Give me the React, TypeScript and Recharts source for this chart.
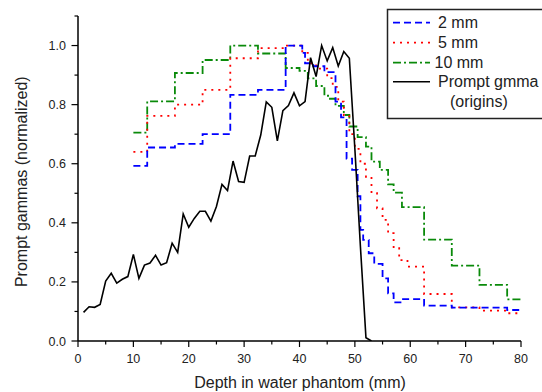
import React from 'react';
import { LineChart, Line, XAxis, YAxis } from 'recharts';

// Prompt gamma origins (black solid)
const originDepth = [1,2,3,4,5,6,7,8,9,10,11,12,13,14,15,16,17,18,19,20,21,22,23,24,25,26,27,28,29,30,31,32,33,34,35,36,37,38,39,40,41,42,43,44,45,46,47,48,49,50,51,52,53];
const originValue = [0.097,0.116,0.114,0.124,0.203,0.229,0.196,0.209,0.218,0.293,0.212,0.257,0.264,0.29,0.257,0.265,0.331,0.30,0.43,0.385,0.415,0.439,0.439,0.406,0.455,0.53,0.509,0.609,0.54,0.537,0.626,0.626,0.697,0.809,0.791,0.677,0.78,0.797,0.84,0.796,0.81,0.959,0.895,1.0,0.948,0.993,0.931,0.98,0.957,0.65,0.32,0.011,0.0];

// 2 mm (blue dashed, step)
const blueEdges = [10,12.5,17.5,22.5,27.5,32.5,37.5,40.5,41,42.5,44.5,46.5,47.5,48.5,49.5,50.5,51,51.5,52.5,53.5,55,56,57,58.5,62.5,67.5,77.5,80];
const blueValues = [0.593,0.655,0.667,0.70,0.833,0.85,1.0,0.975,0.94,0.93,0.91,0.81,0.757,0.617,0.579,0.49,0.376,0.342,0.297,0.261,0.212,0.161,0.131,0.142,0.12,0.113,0.105,0.105];

// 5 mm (red dotted, step)
const redEdges = [10,12.5,17.5,22.5,27.5,32.5,37.5,40.5,41.5,43,45,46,47,48,49,50,51,52,53,54,55,56,57,58,59.5,62.5,67.5,72.5,77.5,80];
const redValues = [0.64,0.762,0.80,0.85,0.957,0.991,1.0,0.975,0.94,0.922,0.89,0.86,0.81,0.765,0.70,0.65,0.60,0.556,0.50,0.449,0.41,0.365,0.314,0.274,0.252,0.159,0.114,0.103,0.094,0.094];

// 10 mm (green dash-dot, step)
const greenEdges = [10,12.5,17.5,22.5,27.5,32.5,37.5,40,41.5,43,44.5,45.5,46.5,48,49,50.5,52,53,54.5,56,57,58.5,62.5,67.5,72.5,77.5,80];
const greenValues = [0.705,0.811,0.907,0.951,1.0,0.973,0.924,0.914,0.889,0.863,0.83,0.82,0.796,0.765,0.726,0.69,0.658,0.607,0.579,0.53,0.502,0.453,0.343,0.255,0.19,0.141,0.141];

const xTicks = [0,5,10,15,20,25,30,35,40,45,50,55,60,65,70,75,80];
const yTicks = [0,0.1,0.2,0.3,0.4,0.5,0.6,0.7,0.8,0.9,1.0,1.1];

const legendLabels = ['2 mm', '5 mm', '10 mm', 'Prompt gmma', '(origins)'];

const toPoints = (xs: number[], ys: number[]) => xs.map((x, i) => ({ x, y: ys[i] }));

const originData = toPoints(originDepth, originValue);
const blueData = toPoints(blueEdges, blueValues);
const redData = toPoints(redEdges, redValues);
const greenData = toPoints(greenEdges, greenValues);

const FONT = 'Arial, "Liberation Sans", Helvetica, sans-serif';

const XTick = (props: any) => {
  const { x, y, payload } = props;
  const v = payload.value;
  const major = Math.round(v) % 10 === 0;
  return (
    <g>
      <line x1={x} x2={x} y1={y} y2={y + (major ? 6 : 3.5)} stroke="#000" strokeWidth={1.2} />
      {major && (
        <text x={x} y={y + 22} textAnchor="middle" fontSize={12.5} fontFamily={FONT} fill="#222">
          {String(v)}
        </text>
      )}
    </g>
  );
};

const YTick = (props: any) => {
  const { x, y, payload } = props;
  const v = payload.value;
  const k = Math.round(v * 10);
  const major = k % 2 === 0 && k <= 10;
  return (
    <g>
      <line x1={x} x2={x - (major ? 6.5 : 3.5)} y1={y} y2={y} stroke="#000" strokeWidth={1.2} />
      {major && (
        <text x={x - 12} y={y + 4.5} textAnchor="end" fontSize={12.5} fontFamily={FONT} fill="#222">
          {(k / 10).toFixed(1)}
        </text>
      )}
    </g>
  );
};

export default function App() {
  return (
    <div style={{ position: 'absolute', left: 0, top: 0, width: 542, height: 392, overflow: 'hidden', background: '#fff' }}>
      <LineChart width={542} height={392} margin={{ top: 16, right: 21, bottom: 0, left: 0 }}>
        <XAxis
          type="number"
          dataKey="x"
          domain={[0, 80]}
          ticks={xTicks}
          interval={0}
          tickSize={0}
          tickMargin={0}
          tickLine={false}
          axisLine={{ stroke: '#000', strokeWidth: 1.5 }}
          tick={XTick}
          height={51}
          allowDataOverflow
        />
        <YAxis
          type="number"
          dataKey="y"
          domain={[0, 1.1]}
          ticks={yTicks}
          interval={0}
          tickSize={0}
          tickMargin={0}
          tickLine={false}
          axisLine={{ stroke: '#000', strokeWidth: 1.5 }}
          tick={YTick}
          width={78}
          allowDataOverflow
        />
        <Line data={greenData} dataKey="y" type="stepAfter" stroke="#0a8a0a" strokeWidth={1.8} strokeDasharray="8 3 2 3" dot={false} isAnimationActive={false} />
        <Line data={redData} dataKey="y" type="stepAfter" stroke="#ff0000" strokeWidth={1.8} strokeDasharray="2 5" dot={false} isAnimationActive={false} />
        <Line data={blueData} dataKey="y" type="stepAfter" stroke="#0000ff" strokeWidth={1.8} strokeDasharray="7 4" dot={false} isAnimationActive={false} />
        <Line data={originData} dataKey="y" type="linear" stroke="#000" strokeWidth={1.6} dot={false} isAnimationActive={false} />
      </LineChart>
      <svg width={542} height={392} style={{ position: 'absolute', left: 0, top: 0, pointerEvents: 'none' }}>
        <text x={27} y={181.7} transform="rotate(-90 27 181.7)" textAnchor="middle" fontSize={16} fontFamily={FONT} fill="#222">
          Prompt gammas (normalized)
        </text>
        <text x={300} y={387.5} textAnchor="middle" fontSize={16} fontFamily={FONT} fill="#222">
          Depth in water phantom (mm)
        </text>
        <rect x={387.5} y={9.5} width={200} height={109} fill="#fff" stroke="#222" strokeWidth={1.5} />
        <line x1={393} x2={430} y1={22.7} y2={22.7} stroke="#0000ff" strokeWidth={1.8} strokeDasharray="7 4" />
        <line x1={393} x2={430} y1={42.7} y2={42.7} stroke="#ff0000" strokeWidth={1.8} strokeDasharray="2 5" />
        <line x1={393} x2={430} y1={62.7} y2={62.7} stroke="#0a8a0a" strokeWidth={1.8} strokeDasharray="8 3 2 3" />
        <line x1={393} x2={430} y1={81.7} y2={81.7} stroke="#000" strokeWidth={1.6} />
        <text x={438} y={28.3} fontSize={16} fontFamily={FONT} fill="#222">{legendLabels[0]}</text>
        <text x={438} y={48.3} fontSize={16} fontFamily={FONT} fill="#222">{legendLabels[1]}</text>
        <text x={434.5} y={68.3} fontSize={16} fontFamily={FONT} fill="#222">{legendLabels[2]}</text>
        <text x={438} y={87.3} fontSize={16} fontFamily={FONT} fill="#222">{legendLabels[3]}</text>
        <text x={450} y={106.5} fontSize={16} fontFamily={FONT} fill="#222">{legendLabels[4]}</text>
      </svg>
    </div>
  );
}
